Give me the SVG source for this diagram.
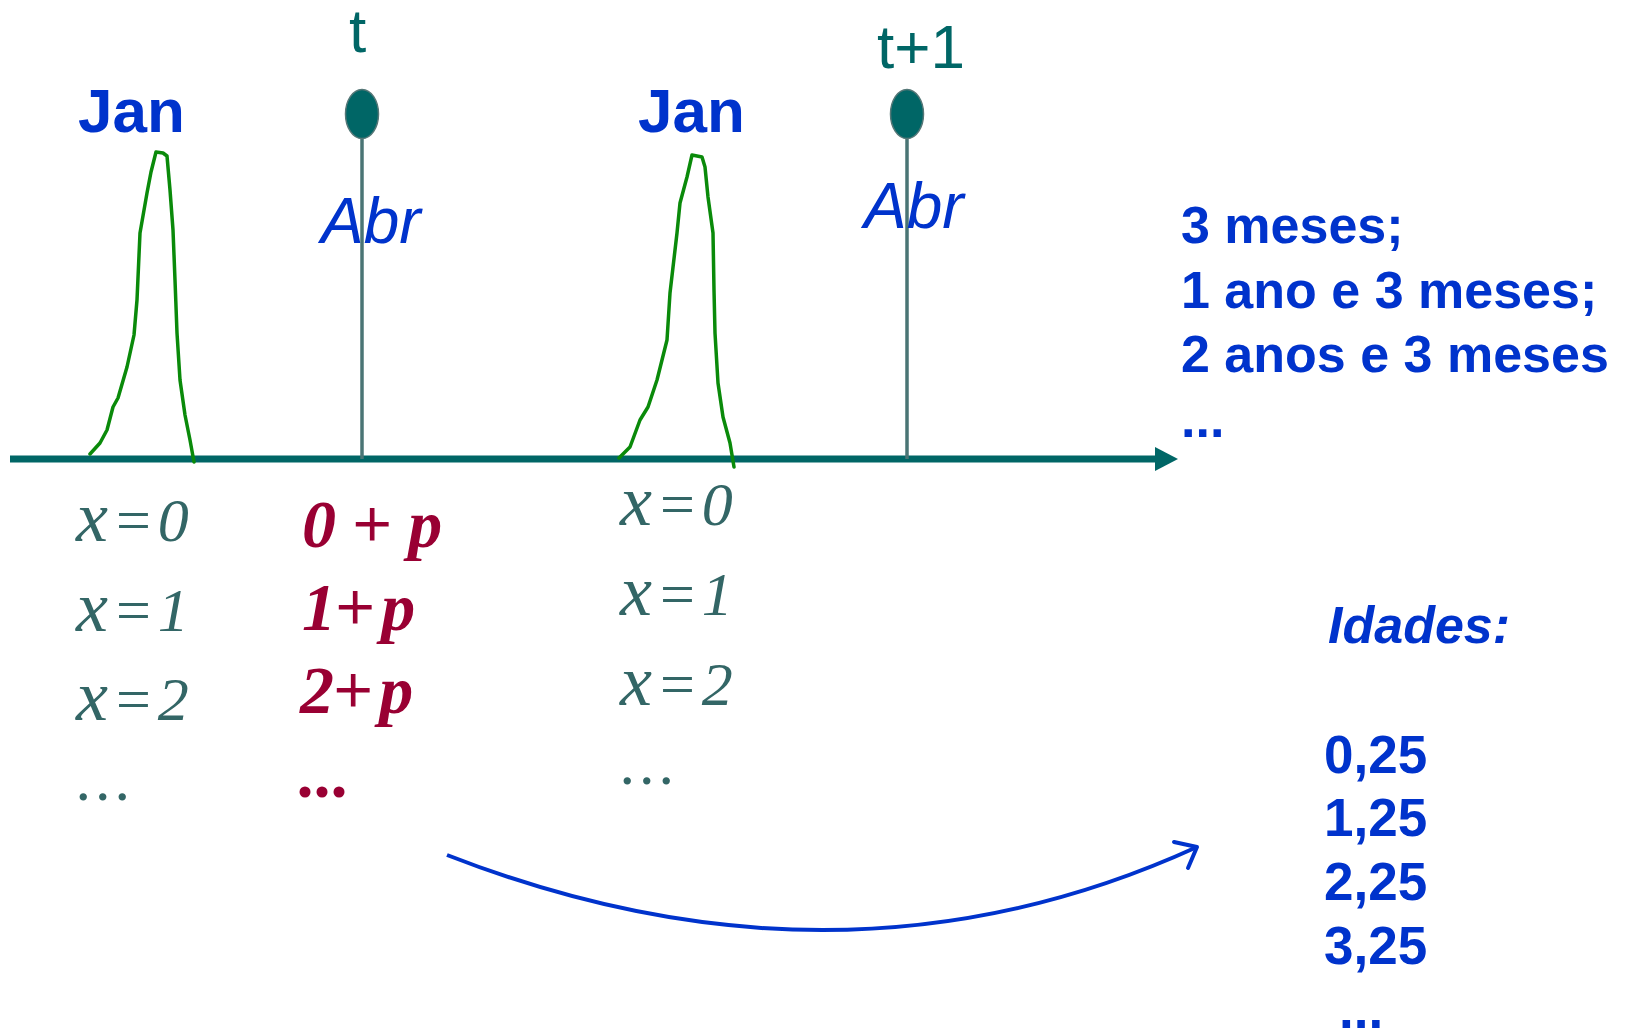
<svg xmlns="http://www.w3.org/2000/svg" width="1626" height="1030" viewBox="0 0 1626 1030">
<style>
.sans{font-family:"Liberation Sans",Arial,sans-serif}
.blueb{fill:#0033CC;font-weight:bold}
.teal{fill:#006666}
.abr{fill:#0033CC;font-style:italic;font-size:64px}
.xv{font-family:"Liberation Serif","Times New Roman",serif;font-style:italic;fill:#336666;font-size:62px;letter-spacing:4px}
.rd{font-family:"Liberation Serif","Times New Roman",serif;font-style:italic;font-weight:bold;fill:#990033;font-size:68px}
.pl{font-style:normal;font-weight:normal;stroke:#990033;stroke-width:1.2}
.stem{stroke:#4A7575;stroke-width:3.5;fill:none}
.dot{fill:#006666;stroke:#557777;stroke-width:1.5}
.pk{fill:none;stroke:#0A8A0A;stroke-width:3.5;stroke-linejoin:round;stroke-linecap:round}
</style>
<rect width="1626" height="1030" fill="#ffffff"/>

<g id="axis">
<line x1="10" y1="459" x2="1158" y2="459" stroke="#006666" stroke-width="7"/>
<polygon points="1155,447 1178,459 1155,471" fill="#006666"/>
</g>

<g id="peak-jan-1">
<polyline class="pk" points="90,454 100,443 107,430 113,407 118,398 127,367 134,335 137,300 140,233 147,193 151,172 156,152 163,153 167,156 170,190 173,230 175,280 177,333 180,380 185,415 190,440 194,462"/>
</g>
<g id="peak-jan-2">
<polyline class="pk" points="619,458 630,447 640,420 648,407 657,380 667,340 670,293 677,233 680,203 687,177 692,155 702,157 705,167 708,197 713,233 714,290 715,333 718,383 723,417 730,443 734,467"/>
</g>

<g id="label-jan-1"><text class="sans blueb" x="78" y="132" font-size="62">Jan</text></g>
<g id="label-jan-2"><text class="sans blueb" x="638" y="132" font-size="62">Jan</text></g>

<g id="marker-t">
<line class="stem" x1="362" y1="136" x2="362" y2="459"/>
<ellipse class="dot" cx="362" cy="114" rx="16.5" ry="24.5"/>
<text class="sans teal" x="349" y="52" font-size="62">t</text>
<text class="sans abr" x="321" y="243">Abr</text>
</g>
<g id="marker-t1">
<line class="stem" x1="907" y1="136" x2="907" y2="459"/>
<ellipse class="dot" cx="907" cy="114" rx="16.5" ry="24.5"/>
<text class="sans teal" x="877" y="68" font-size="62">t+1</text>
<text class="sans abr" x="864" y="228">Abr</text>
</g>

<g id="ages-left">
<text class="xv" x="76" y="541"><tspan font-size="72">x</tspan>=0</text>
<text class="xv" x="76" y="631"><tspan font-size="72">x</tspan>=1</text>
<text class="xv" x="76" y="720"><tspan font-size="72">x</tspan>=2</text>
<text class="xv" x="77" y="800" font-size="52" font-style="normal">...</text>
</g>

<g id="ages-mid">
<text class="rd" x="302" y="547">0 <tspan class="pl">+</tspan> p</text>
<text class="rd" x="302" y="630">1<tspan class="pl">+</tspan><tspan dx="7">p</tspan></text>
<text class="rd" x="300" y="713">2<tspan class="pl">+</tspan><tspan dx="7">p</tspan></text>
<text class="rd" x="299" y="797" font-size="62">...</text>
</g>

<g id="ages-right">
<text class="xv" x="620" y="525"><tspan font-size="72">x</tspan>=0</text>
<text class="xv" x="620" y="615"><tspan font-size="72">x</tspan>=1</text>
<text class="xv" x="620" y="705"><tspan font-size="72">x</tspan>=2</text>
<text class="xv" x="621" y="784" font-size="52" font-style="normal">...</text>
</g>

<g id="meses">
<text class="sans blueb" font-size="52">
<tspan x="1181" y="243">3 meses;</tspan>
<tspan x="1181" y="308">1 ano e 3 meses;</tspan>
<tspan x="1181" y="372">2 anos e 3 meses</tspan>
<tspan x="1181" y="437">...</tspan>
</text>
</g>

<g id="idades">
<text class="sans blueb" x="1328" y="643" font-size="52" font-style="italic">Idades:</text>
<text class="sans blueb" font-size="53">
<tspan x="1324" y="773">0,25</tspan>
<tspan x="1324" y="836">1,25</tspan>
<tspan x="1324" y="900">2,25</tspan>
<tspan x="1324" y="964">3,25</tspan>
<tspan x="1339" y="1028">...</tspan>
</text>
</g>

<g id="connectors">
<path d="M447,855 Q842,1009 1197,847" fill="none" stroke="#0033CC" stroke-width="4"/>
<polyline points="1174,842 1197,847 1188,868" fill="none" stroke="#0033CC" stroke-width="4" stroke-linecap="round" stroke-linejoin="round"/>
</g>
</svg>
